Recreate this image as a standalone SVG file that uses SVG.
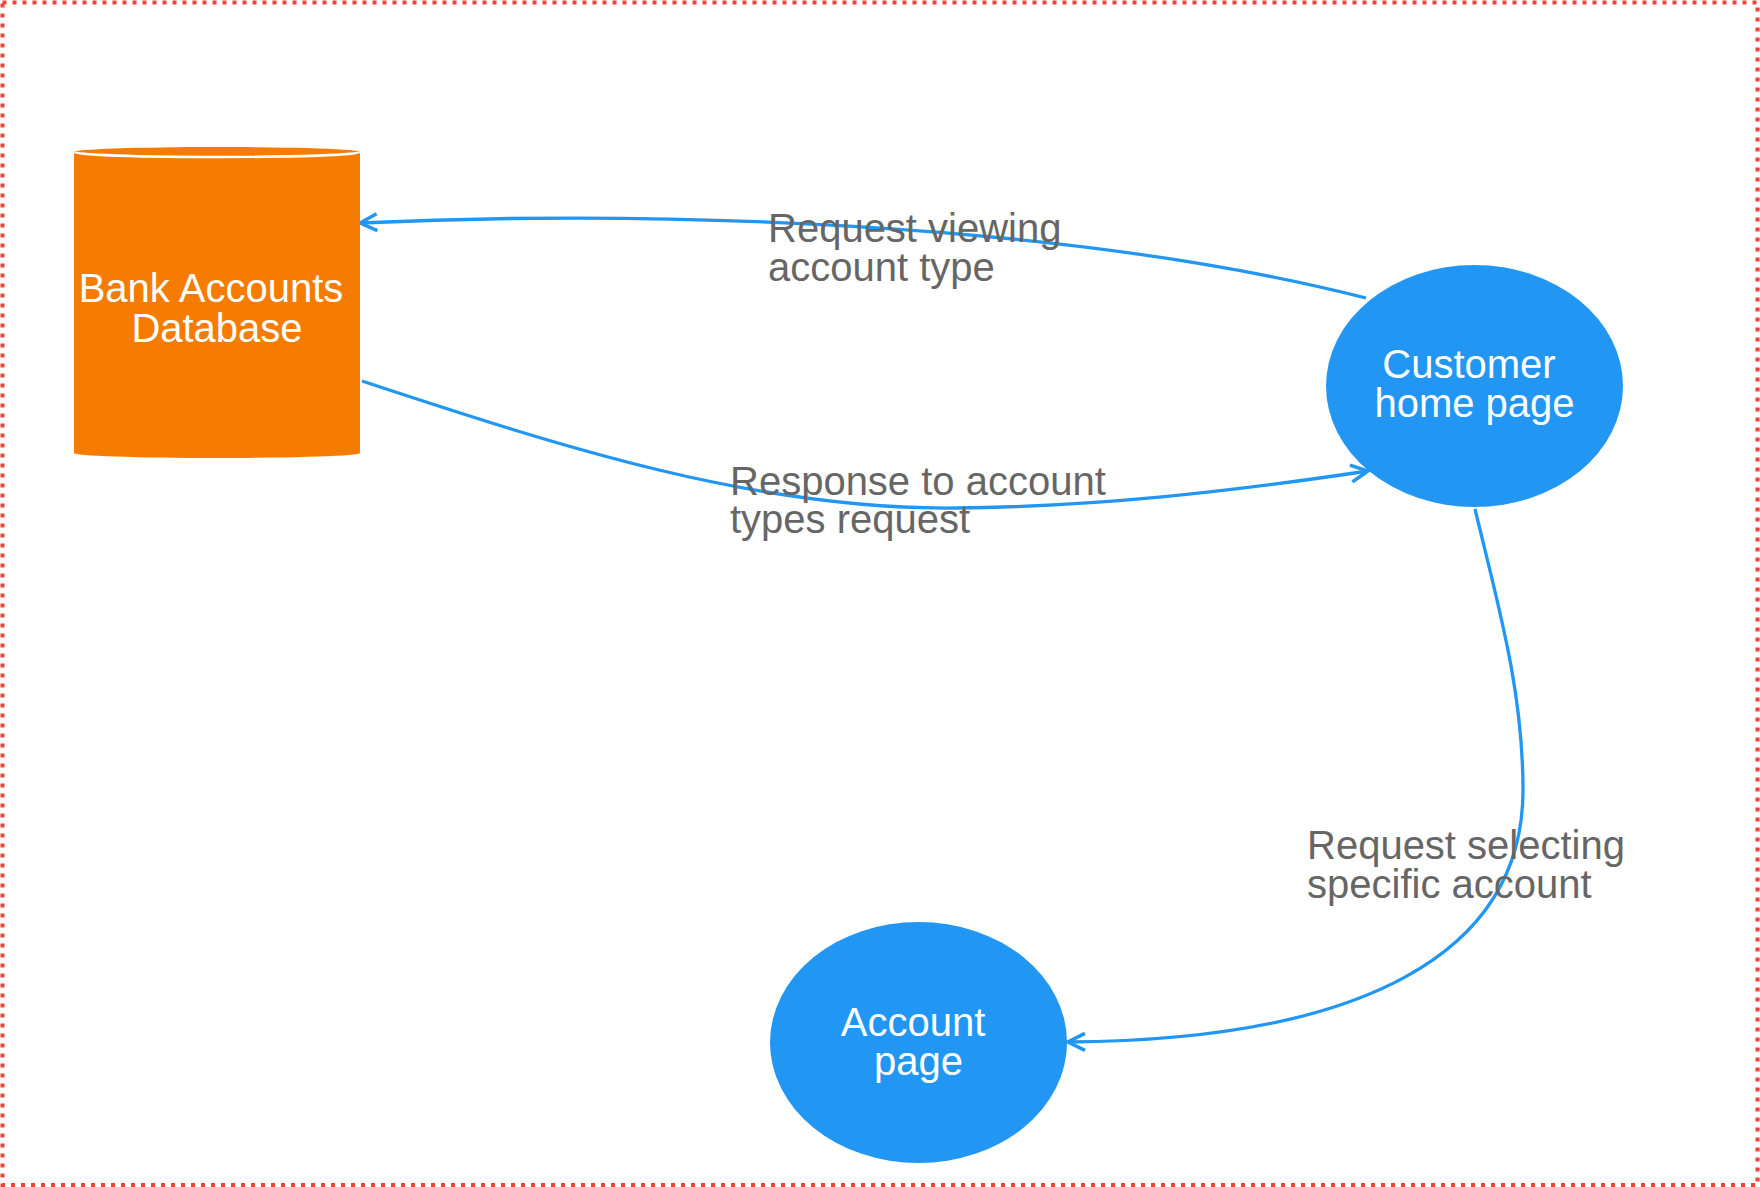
<svg xmlns="http://www.w3.org/2000/svg" width="1760" height="1187" viewBox="0 0 1760 1187">
<style>
.node-text{font-family:"Liberation Sans",Arial,sans-serif;font-size:40px;fill:#ffffff;text-anchor:middle}
.label{font-family:"Liberation Sans",Arial,sans-serif;font-size:40px;fill:#666666}
.edge{fill:none;stroke:#2196F3;stroke-width:3.3;marker-end:url(#arrow)}
</style>
<defs>
<marker id="arrow" viewBox="0 0 22 22" refX="19" refY="11" markerWidth="22" markerHeight="22" markerUnits="userSpaceOnUse" orient="auto">
<path d="M2,2.5 L19,11 L2,19.5" fill="none" stroke="#2196F3" stroke-width="3.5"/>
</marker>
</defs>
<rect x="0" y="0" width="1760" height="1187" fill="#ffffff"/>
<rect x="2.5" y="2.5" width="1755" height="1182.5" fill="none" stroke="#F44336" stroke-width="4" stroke-dasharray="4 6"/>
<g id="connectors">
<path id="e1" class="edge" d="M1366,298 C1060,220 640,210 360,223"/>
<path id="e2" class="edge" d="M362,381 C562,447 756,510 956,508 C1096,506.6 1228,492 1368,471"/>
<path id="e3" class="edge" d="M1475,509 C1498,605 1523,690 1523,790 C1523,955 1360,1040 1068,1042"/>
</g>
<g id="bank-db">
<path d="M74,152 A143,5 0 0 1 360,152 L360,453 A143,5 0 0 1 74,453 Z" fill="#F57C00"/>
<path d="M74,152 A143,5 0 0 0 360,152" fill="none" stroke="#ffffff" stroke-width="2.5"/>
<text class="node-text" x="211" y="302">Bank Accounts</text>
<text class="node-text" x="217" y="342">Database</text>
</g>
<g id="customer-home">
<ellipse cx="1474.5" cy="386" rx="148.5" ry="121" fill="#2196F3"/>
<text class="node-text" x="1469" y="378">Customer</text>
<text class="node-text" x="1474.5" y="417">home page</text>
</g>
<g id="account-page">
<ellipse cx="918.5" cy="1042.5" rx="148.5" ry="120.5" fill="#2196F3"/>
<text class="node-text" x="913" y="1036">Account</text>
<text class="node-text" x="918.5" y="1075">page</text>
</g>
<g id="labels">
<text class="label" x="768" y="242">Request viewing</text>
<text class="label" x="768" y="281">account type</text>
<text class="label" x="730" y="495">Response to account</text>
<text class="label" x="730" y="533">types request</text>
<text class="label" x="1307" y="859">Request selecting</text>
<text class="label" x="1307" y="898">specific account</text>
</g>
</svg>
